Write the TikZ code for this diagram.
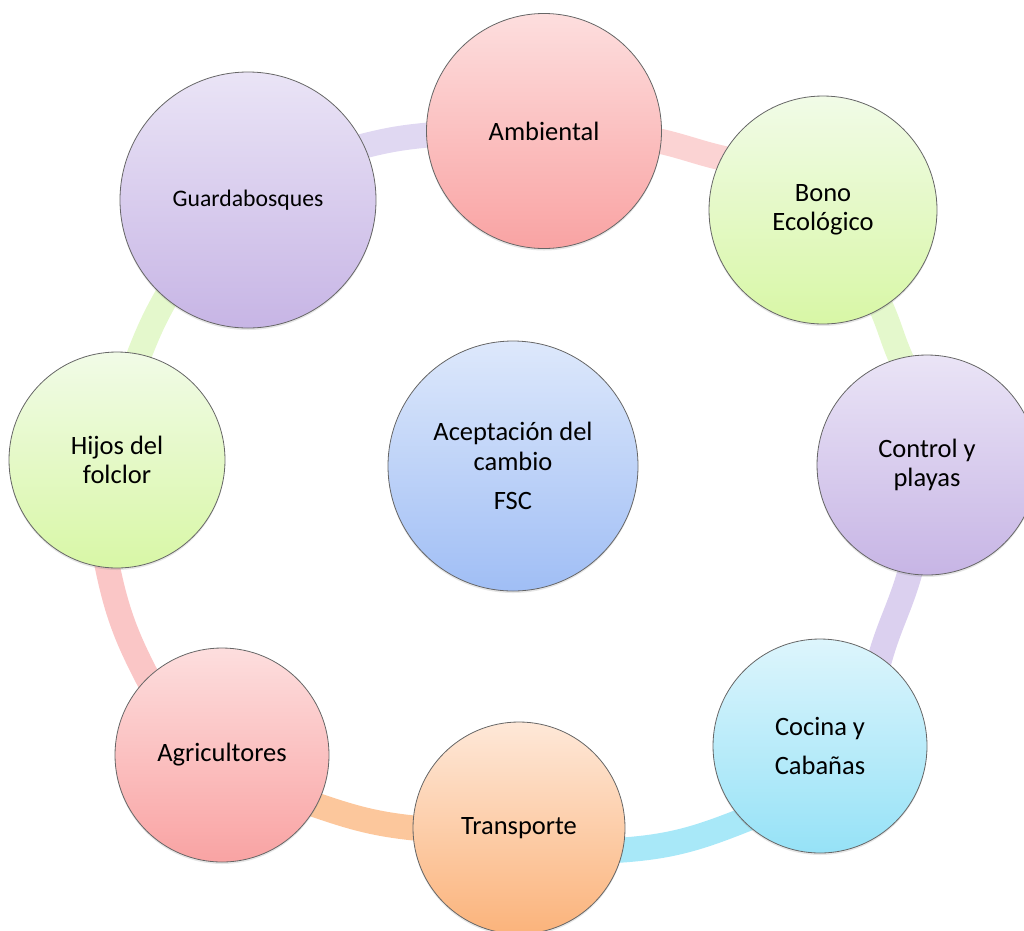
\documentclass[tikz,border=0pt]{standalone}
\usepackage{fontspec}
\setmainfont{Carlito}
\usetikzlibrary{shapes, shadows, backgrounds}

\definecolor{redtop}{HTML}{FDDEDE}
\definecolor{redbot}{HTML}{F9A3A3}
\definecolor{greentop}{HTML}{F1FBE7}
\definecolor{greenbot}{HTML}{D8F7A6}
\definecolor{purpletop}{HTML}{EAE4F6}
\definecolor{purplebot}{HTML}{C7B5E5}
\definecolor{cyantop}{HTML}{DDF5FC}
\definecolor{cyanbot}{HTML}{96E2F7}
\definecolor{orangetop}{HTML}{FEE8D8}
\definecolor{orangebot}{HTML}{FBB37B}
\definecolor{bluetop}{HTML}{DDE8FB}
\definecolor{bluebot}{HTML}{A0BEF5}

\definecolor{ringpurple}{HTML}{E0D8F2}
\definecolor{ringlilac}{HTML}{DBD0EF}
\definecolor{ringpink}{HTML}{FBD3D3}
\definecolor{ringred}{HTML}{FAC6C6}
\definecolor{ringgreen}{HTML}{E4F8CC}
\definecolor{ringcyan}{HTML}{A8E8F8}
\definecolor{ringorange}{HTML}{FCC79C}

\begin{document}
\begin{tikzpicture}[x=1pt, y=1pt]

\tikzstyle{bubble} = [draw=black!60, line width=0.8pt, shape=circle, align=center, inner sep=0pt, font=\fontsize{26.5}{29.5}\selectfont, drop shadow={shadow xshift=0pt, shadow yshift=-2pt, opacity=0.2}]
\tikzstyle{ring} = [line width=25pt, shorten <=-14pt, shorten >=-14pt]

\useasboundingbox (0,0) rectangle (1024,-930);

%Creating Bubbles
\node [bubble, minimum size=250pt, top color=bluetop, bottom color=bluebot] at (513,-466) (fsc) {Aceptación del\\cambio\\[10pt]FSC};
\node [bubble, minimum size=235pt, top color=redtop, bottom color=redbot] at (544,-131) (amb) {Ambiental};
\node [bubble, minimum size=228pt, top color=greentop, bottom color=greenbot] at (823,-210) (bono) {Bono\\Ecológico};
\node [bubble, minimum size=220pt, top color=purpletop, bottom color=purplebot] at (927,-465) (ctrl) {Control y\\playas};
\node [bubble, minimum size=214pt, top color=cyantop, bottom color=cyanbot] at (820,-746) (coc) {Cocina y\\[9pt]Cabañas};
\node [bubble, minimum size=212pt, top color=orangetop, bottom color=orangebot] at (519,-828) (trans) {Transporte};
\node [bubble, minimum size=214pt, top color=redtop, bottom color=redbot] at (222,-755) (agr) {Agricultores};
\node [bubble, minimum size=216pt, top color=greentop, bottom color=greenbot] at (117,-460) (hijos) {Hijos del\\folclor};
\node [bubble, minimum size=256pt, top color=purpletop, bottom color=purplebot, font=\fontsize{23.7}{28}\selectfont] at (248,-200) (gb) {Guardabosques};

%Connecting Bubbles
\begin{pgfonlayer}{background}
\draw[ring, ringpurple] (gb.25) to[out=15, in=185] (amb.182);
\draw[ring, ringpink] (amb.355) to[out=-11, in=169] (bono.153);
\draw[ring, ringgreen] (bono.301) to[out=-63, in=117] (ctrl.104);
\draw[ring, ringlilac] (ctrl.261) to[out=-104, in=76] (coc.56);
\draw[ring, ringcyan] (coc.224) to[out=202, in=3] (trans.348);
\draw[ring, ringorange] (trans.180) to[out=175, in=-19] (agr.332);
\draw[ring, ringred] (agr.134) to[out=118, in=281] (hijos.265);
\draw[ring, ringgreen] (hijos.78) to[out=69, in=240] (gb.230);
\end{pgfonlayer}
\end{tikzpicture}
\end{document}
